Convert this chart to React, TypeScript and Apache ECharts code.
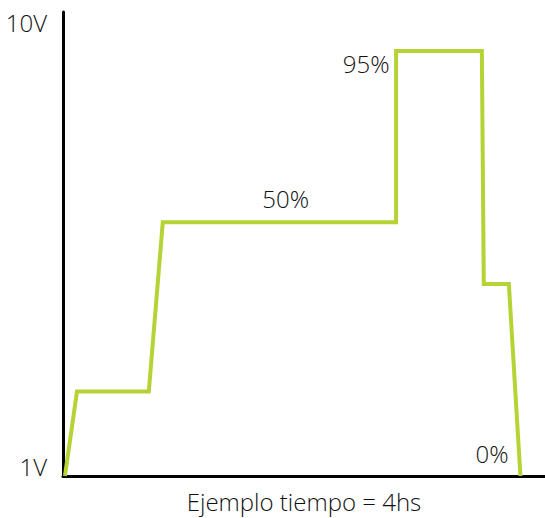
import React, { useEffect, useRef } from "react";
import * as echarts from "echarts";

// time (% of 4hs) vs level (% of scale)
const timeValues = [0.4, 2.9, 17.8, 20.7, 69.1, 69.1, 86.9, 87.3, 92.5, 94.9];
const levelValues = [0, 18.2, 18.2, 54.7, 54.7, 91.6, 91.6, 41.4, 41.4, 0];

const annotationTexts = ["95%", "50%", "0%"];
const annotationX = [62.9, 46.2, 89.0];
const annotationY = [88.8, 59.9, 4.9];

const yTickLabels = ["1V", "10V"];
const xAxisTitle = "Ejemplo tiempo = 4hs";

const FONT = "Open Sans";
const FW = 300;
const FS = 24;
const TC = "#111";

export default function App() {
  const ref = useRef<HTMLDivElement>(null);
  useEffect(() => {
    if (!ref.current) return;
    const chart = echarts.init(ref.current, undefined, { renderer: "svg" });
    const lineData = timeValues.map((t, i) => [t, levelValues[i]]);
    const annData = annotationTexts.map((txt, i) => ({
      value: [annotationX[i], annotationY[i]],
      name: txt,
    }));
    const ts = { fontFamily: FONT, fontWeight: FW, fontSize: FS, color: TC };
    chart.setOption({
      animation: false,
      grid: { left: 63, right: 0, top: 12, bottom: 40 },
      xAxis: {
        type: "value",
        min: 0,
        max: 100,
        name: xAxisTitle,
        nameLocation: "middle",
        nameGap: 13,
        nameTextStyle: ts,
        axisLine: { show: true, lineStyle: { color: "#000", width: 3 } },
        axisTick: { show: false },
        axisLabel: { show: false },
        splitLine: { show: false },
      },
      yAxis: {
        type: "value",
        min: 0,
        max: 100,
        interval: 100,
        axisLine: { show: true, lineStyle: { color: "#000", width: 3 } },
        axisTick: { show: false },
        splitLine: { show: false },
        axisLabel: {
          show: true,
          margin: 16,
          ...ts,
          formatter: (v: number) =>
            v === 0 ? `{bot|${yTickLabels[0]}}` : `{top|${yTickLabels[1]}}`,
          rich: {
            top: { ...ts, padding: [20, 0, 0, 0] },
            bot: { ...ts, padding: [0, 0, 20, 0] },
          },
        },
      },
      series: [
        {
          type: "line",
          data: lineData,
          symbol: "none",
          lineStyle: { color: "#b5d334", width: 4, join: "miter" },
          z: 2,
        },
        {
          type: "scatter",
          data: annData,
          symbolSize: 0,
          itemStyle: { opacity: 1 },
          label: {
            show: true,
            position: "inside",
            formatter: (p: any) => p.name,
            ...ts,
          },
          z: 3,
        },
      ],
    });
    return () => chart.dispose();
  }, []);
  return (
    <div
      ref={ref}
      style={{ position: "fixed", left: 0, top: 0, width: 545, height: 518, background: "#fff" }}
    />
  );
}
